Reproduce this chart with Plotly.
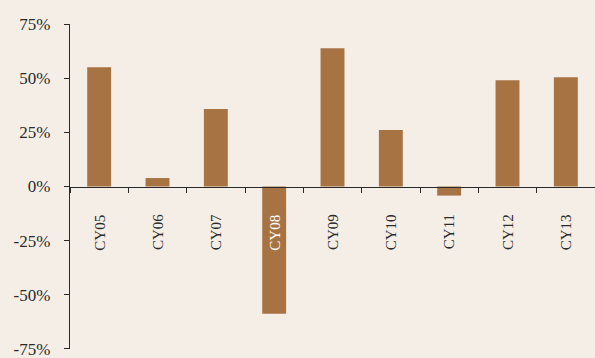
import plotly.graph_objects as go

categories = ["CY05", "CY06", "CY07", "CY08", "CY09", "CY10", "CY11", "CY12", "CY13"]
values = [55.1, 3.9, 35.8, -58.8, 63.9, 26.1, -4.2, 49.1, 50.5]
ytick_vals = [-75, -50, -25, 0, 25, 50, 75]
ytick_text = ["-75%", "-50%", "-25%", "0%", "25%", "50%", "75%"]

BG = "#F4EEE7"
BAR = "#A87342"
INK = "#2a2a2a"

xs = list(range(len(categories)))
fig = go.Figure(go.Bar(x=xs, y=values, marker=dict(color=BAR, line=dict(width=0)),
                       width=0.41, hoverinfo="skip"))

annotations = []
for i, (c, v) in enumerate(zip(categories, values)):
    color = "white" if v < -20 else INK
    annotations.append(dict(x=i, y=0, xref="x", yref="y", text=c, showarrow=False,
                            textangle=-90, xanchor="center", yanchor="top", yshift=-26,
                            font=dict(family="Liberation Serif", size=15, color=color)))

fig.update_layout(
    width=595, height=358,
    margin=dict(l=70, r=0, t=24, b=9),
    paper_bgcolor=BG, plot_bgcolor=BG,
    showlegend=False,
    annotations=annotations,
    xaxis=dict(range=[-0.5, 8.5], anchor="free", position=0.5,
               tickmode="array", tickvals=[i - 0.5 for i in range(10)],
               showticklabels=False, ticks="outside", ticklen=5, tickcolor=INK,
               showline=True, linecolor=INK, linewidth=1.3, showgrid=False, zeroline=False),
    yaxis=dict(range=[-75.05, 75.05], tickmode="array", tickvals=ytick_vals, ticktext=ytick_text,
               ticks="outside", ticklen=5, tickcolor=INK, showline=True, linecolor=INK,
               linewidth=1.3, showgrid=False, zeroline=False, ticklabelstandoff=10,
               ticklabeloverflow="allow",
               tickfont=dict(family="Liberation Serif", size=17, color=INK)),
)

fig.write_html("out.html")
